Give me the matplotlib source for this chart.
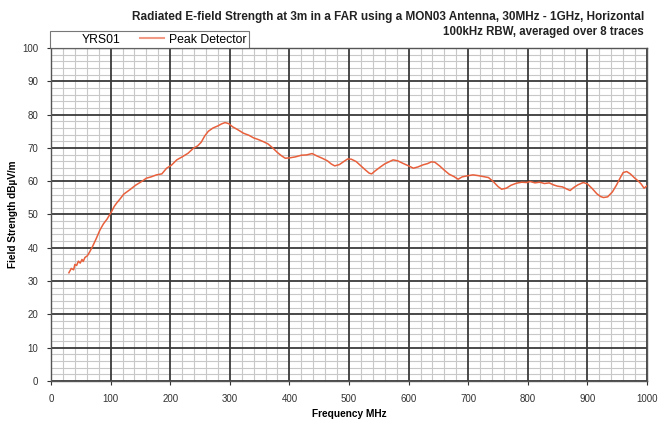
import numpy as np
import matplotlib.pyplot as plt
from matplotlib.lines import Line2D
from matplotlib.ticker import MultipleLocator

plt.rcParams['font.family'] = ['Liberation Sans', 'DejaVu Sans']

# Peak detector trace, MHz vs dBuV/m
freq = [30, 34, 38, 40, 43, 46, 49, 52, 54, 57, 61, 65, 70, 76, 82, 88, 94, 98,
        102, 106, 110, 116, 122, 132, 142, 152, 160, 168, 177, 186, 194, 202,
        211, 220, 230, 239, 246, 252, 258, 264, 272, 280, 286, 292, 298, 305,
        314, 323, 332, 340, 348, 356, 364, 372, 380, 387, 393, 400, 410, 420,
        429, 438, 446, 455, 464, 470, 476, 484, 492, 498, 504, 512, 520, 528,
        534, 538, 544, 552, 560, 568, 574, 582, 590, 600, 608, 616, 624, 632,
        638, 644, 652, 660, 668, 676, 683, 690, 698, 708, 716, 725, 734, 742,
        750, 756, 764, 772, 781, 790, 798, 804, 812, 820, 828, 836, 843, 850,
        858, 866, 871, 877, 884, 893, 900, 908, 916, 922, 927, 934, 942, 949,
        955, 960, 966, 972, 979, 985, 990, 995, 1000]
level = [32.5, 33.8, 33.4, 35.0, 34.7, 36.0, 35.4, 36.5, 35.9, 37.1, 37.6, 38.8,
         40.5, 42.8, 45.3, 47.2, 48.6, 49.8, 51.0, 52.4, 53.4, 54.7, 56.1, 57.4,
         58.8, 59.9, 60.9, 61.3, 61.9, 62.2, 63.9, 64.8, 66.4, 67.3, 68.4, 69.9,
         70.6, 71.7, 73.6, 75.0, 76.0, 76.6, 77.2, 77.6, 77.3, 76.3, 75.4, 74.4,
         73.8, 73.0, 72.5, 71.9, 71.2, 70.0, 68.6, 67.6, 66.9, 67.0, 67.3, 67.8,
         67.9, 68.3, 67.6, 66.9, 66.1, 65.2, 64.6, 65.0, 66.0, 66.7, 66.6, 65.9,
         64.6, 63.3, 62.4, 62.2, 63.1, 64.2, 65.2, 65.9, 66.4, 66.1, 65.4, 64.6,
         63.9, 64.3, 64.9, 65.3, 65.8, 65.7, 64.6, 63.3, 62.1, 61.4, 60.6, 61.3,
         61.6, 61.9, 61.7, 61.4, 61.1, 59.9, 58.4, 57.6, 57.9, 58.8, 59.4, 59.7,
         59.6, 59.9, 59.5, 59.7, 59.3, 59.5, 58.9, 58.5, 58.3, 57.6, 57.2, 58.1,
         58.9, 59.6, 59.2, 57.8, 56.2, 55.4, 55.1, 55.3, 56.8, 58.9, 61.0, 62.6,
         62.9, 62.2, 61.0, 60.1, 59.2, 57.9, 58.6]

fig = plt.figure(figsize=(6.64, 4.21), dpi=100)
ax = fig.add_axes([0.0768, 0.095, 0.8976, 0.791])

ax.plot(freq, level, color='#e8603c', lw=1.1, zorder=3)

ax.set_xlim(0, 1000)
ax.set_ylim(0, 100)
ax.xaxis.set_major_locator(MultipleLocator(100))
ax.xaxis.set_minor_locator(MultipleLocator(20))
ax.yaxis.set_major_locator(MultipleLocator(10))
ax.yaxis.set_minor_locator(MultipleLocator(2))

# grid by hand so the heavy lines always sit above the fine ones
for xv in ax.get_xticks(minor=True):
    ax.axvline(xv, color='#c8c8c8', lw=0.8, zorder=0.5)
for yv in ax.get_yticks(minor=True):
    ax.axhline(yv, color='#c8c8c8', lw=0.8, zorder=0.5)
for xv in ax.get_xticks():
    ax.axvline(xv, color='#3a3a3a', lw=1.3, zorder=1)
for yv in ax.get_yticks():
    ax.axhline(yv, color='#3a3a3a', lw=1.3, zorder=1)

for s in ax.spines.values():
    s.set_color('#555555')
    s.set_linewidth(1.0)
ax.tick_params(which='major', labelsize=7, colors='#333333', length=3, pad=6)
ax.tick_params(which='minor', length=0)

ax.set_xlabel('Frequency MHz', fontsize=7.3, fontweight='bold', labelpad=4)
ax.set_ylabel('Field Strength dBµV/m', fontsize=7.2, fontweight='bold', labelpad=3)

fig.text(0.970, 0.960, 'Radiated E-field Strength at 3m in a FAR using a MON03 Antenna, 30MHz - 1GHz, Horizontal',
         ha='right', va='center', fontsize=8.5, fontweight='bold', color='#222222')
fig.text(0.970, 0.923, '100kHz RBW, averaged over 8 traces',
         ha='right', va='center', fontsize=8.3, fontweight='bold', color='#222222')

# series legend sitting on the top edge of the plot
blank = Line2D([], [], color='none')
trace = Line2D([], [], color='#f29a84', lw=1.5)
leg = fig.legend([blank, trace], ['YRS01', 'Peak Detector'], ncol=2,
                 loc='lower left', bbox_to_anchor=(0.075, 0.886),
                 fontsize=8.8, frameon=True, fancybox=False, borderpad=0.2,
                 handlelength=2.0, handletextpad=0.4, columnspacing=1.6,
                 borderaxespad=0)
leg.get_frame().set_edgecolor('#555555')
leg.get_frame().set_linewidth(0.8)

fig.savefig('out.png', dpi=100)
